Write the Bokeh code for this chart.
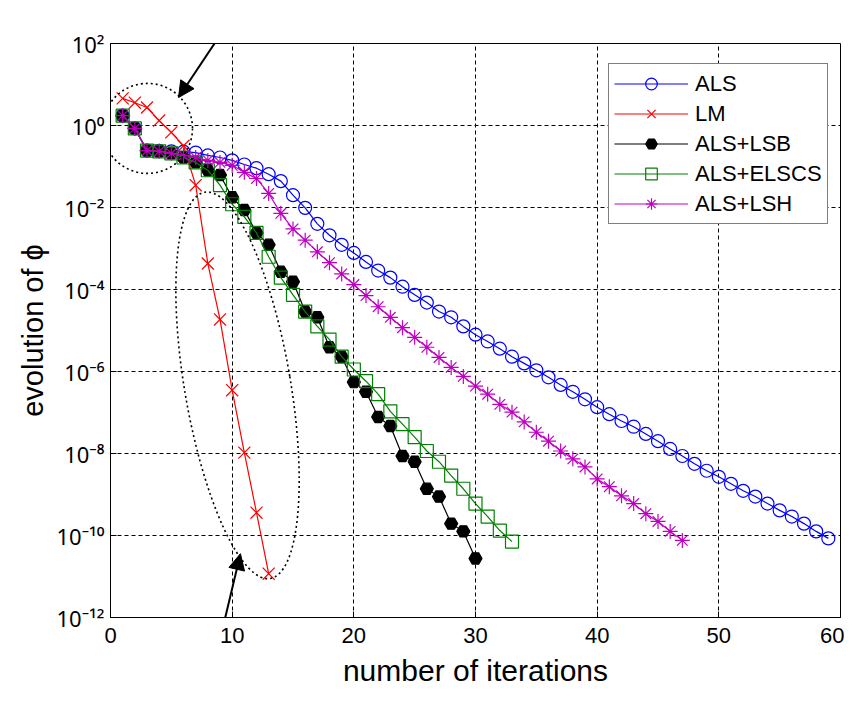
from bokeh.plotting import figure
from bokeh.models import (FixedTicker, CustomJSTickFormatter, Range1d, Arrow,
                          NormalHead, Legend, LegendItem)
from bokeh.embed import file_html
from bokeh.resources import INLINE

# ---- data (phi per iteration) ----
als = [1.74, 0.85, 0.245, 0.24, 0.235, 0.23, 0.219, 0.186, 0.166, 0.141,
       0.112, 9.1e-2, 6.5e-2, 4.4e-2, 2.0e-2, 9.8e-3, 4.0e-3, 2.1e-3, 1.23e-3, 7.8e-4,
       4.7e-4, 2.9e-4, 1.95e-4, 1.17e-4, 7.4e-5, 4.8e-5, 2.9e-5, 2.1e-5, 1.26e-5, 7.9e-6,
       5.4e-6, 3.6e-6, 2.3e-6, 1.58e-6, 1.07e-6, 7.2e-7, 4.7e-7, 3.2e-7, 2.1e-7, 1.35e-7,
       9.1e-8, 6.2e-8, 4.5e-8, 3.0e-8, 2.0e-8, 1.29e-8, 8.7e-9, 5.6e-9, 3.8e-9, 2.7e-9,
       1.82e-9, 1.23e-9, 8.9e-10, 6.0e-10, 4.1e-10, 2.9e-10, 1.95e-10, 1.26e-10, 8.5e-11]
lm = [4.6, 3.6, 2.75, 1.32, 0.68, 0.32, 3.5e-2, 4.3e-4, 1.86e-5, 3.5e-7,
      1.05e-8, 3.6e-10, 1.17e-11]
als_lsb = [1.74, 0.85, 0.245, 0.234, 0.209, 0.166, 0.126, 8.1e-2, 6.2e-2, 1.78e-2,
           8.7e-3, 2.4e-3, 1.23e-3, 2.7e-4, 1.55e-4, 2.9e-5, 2.1e-5, 3.9e-6, 2.3e-6, 5.5e-7,
           3.2e-7, 7.8e-8, 4.7e-8, 8.7e-9, 6.3e-9, 1.38e-9, 8.9e-10, 1.95e-10, 1.26e-10, 2.75e-11]
als_elscs = [1.74, 0.85, 0.245, 0.234, 0.209, 0.166, 0.126, 8.1e-2, 3.5e-2, 1.2e-2,
             5.9e-3, 2.4e-3, 6.3e-4, 1.95e-4, 7.4e-5, 2.9e-5, 1.26e-5, 6.0e-6, 2.3e-6, 1.12e-6,
             5.8e-7, 2.8e-7, 1.07e-7, 5.2e-8, 2.5e-8, 1.15e-8, 6.3e-9, 2.9e-9, 1.38e-9, 6.0e-10,
             2.9e-10, 1.32e-10, 7.1e-11]
als_lsh = [1.74, 0.85, 0.245, 0.234, 0.209, 0.186, 0.166, 0.141, 0.126, 0.107,
           7.2e-2, 5.1e-2, 2.2e-2, 7.2e-3, 3.0e-3, 1.6e-3, 8.3e-4, 4.5e-4, 2.4e-4, 1.32e-4,
           7.1e-5, 3.8e-5, 2.1e-5, 1.17e-5, 6.8e-6, 3.9e-6, 2.2e-6, 1.26e-6, 7.6e-7, 4.4e-7,
           2.8e-7, 1.58e-7, 1.02e-7, 5.9e-8, 3.3e-8, 2.0e-8, 1.15e-8, 7.4e-9, 4.7e-9, 2.4e-9,
           1.55e-9, 9.3e-10, 6.0e-10, 3.4e-10, 2.2e-10, 1.26e-10, 7.6e-11]

series_names = ["ALS", "LM", "ALS+LSB", "ALS+ELSCS", "ALS+LSH"]
series_values = [als, lm, als_lsb, als_elscs, als_lsh]
x_ticks = [0, 10, 20, 30, 40, 50, 60]
y_ticks = [1e-12, 1e-10, 1e-8, 1e-6, 1e-4, 1e-2, 1e0, 1e2]

# ---- styling ----
FONT = "Liberation Sans"
styles = [
    dict(color="#0000FF", marker="circle", size=13, fill=None),
    dict(color="#FF0000", marker="x", size=17, fill=None),
    dict(color="#000000", marker="hex", size=13, fill="#000000"),
    dict(color="#008000", marker="square", size=13, fill=None),
    dict(color="#C000C0", marker="asterisk", size=15, fill=None),
]

p = figure(frame_width=730, frame_height=574,
           x_range=Range1d(0, 60), y_range=Range1d(1e-12, 1e2),
           y_axis_type="log", output_backend="svg", toolbar_location=None,
           min_border_left=110, min_border_top=43, min_border_right=4,
           min_border_bottom=78)
p.background_fill_color = "white"
p.border_fill_color = "white"
p.outline_line_color = "black"
p.outline_line_width = 1
p.outline_line_alpha = 1

items = []
for name, vals, st in zip(series_names, series_values, styles):
    xs = list(range(1, len(vals) + 1))
    ln = p.line(xs, vals, line_color=st["color"], line_width=1.2)
    sc = p.scatter(xs, vals, marker=st["marker"], size=st["size"],
                   line_color=st["color"], line_width=1.2,
                   fill_color=st["fill"])
    items.append(LegendItem(label=name, renderers=[ln, sc]))

# axes
p.xaxis.ticker = FixedTicker(ticks=x_ticks)
p.yaxis.ticker = FixedTicker(ticks=y_ticks)
p.yaxis.formatter = CustomJSTickFormatter(code="""
const sup = {"-":"\u207b","0":"\u2070","1":"\u00b9","2":"\u00b2","3":"\u00b3",
             "4":"\u2074","5":"\u2075","6":"\u2076","7":"\u2077","8":"\u2078","9":"\u2079"};
const e = Math.round(Math.log10(tick)).toString();
return "10" + e.split("").map(c => sup[c]).join("");
""")
for ax in (p.xaxis[0], p.yaxis[0]):
    ax.axis_line_color = "black"
    ax.major_tick_line_color = "black"
    ax.major_tick_in = 6
    ax.major_tick_out = 0
    ax.minor_tick_line_color = None
    ax.major_label_text_font = FONT
    ax.major_label_text_color = "black"
    ax.axis_label_text_font = FONT
    ax.axis_label_text_font_style = "normal"
    ax.axis_label_text_color = "black"
p.yaxis.major_label_text_font = "Noto Sans"
p.xaxis.major_label_text_font_size = "22px"
p.yaxis.major_label_text_font_size = "22px"
p.xaxis.major_label_standoff = 10
p.yaxis.major_label_standoff = 6
p.xaxis.axis_label = "number of iterations"
p.yaxis.axis_label = "evolution of \u03d5"
p.xaxis.axis_label_text_font_size = "30px"
p.yaxis.axis_label_text_font_size = "29px"
p.xaxis.axis_label_standoff = 8
p.yaxis.axis_label_standoff = 4

for g in (p.xgrid[0], p.ygrid[0]):
    g.grid_line_color = "black"
    g.grid_line_dash = "4 3"
    g.grid_line_width = 1
p.ygrid.ticker = FixedTicker(ticks=y_ticks)

# annotations: dotted ellipses and arrows
p.ellipse(x=3.04, y=0.85, width=90, height=90, width_units="screen",
          height_units="screen", fill_color=None, line_color="black",
          line_dash="2 3", line_width=1.6)
p.ellipse(x=10.44, y=4.6e-7, width=106, height=392, angle=0.168,
          width_units="screen", height_units="screen", fill_color=None,
          line_color="black", line_dash="2 3", line_width=1.6)
p.add_layout(Arrow(end=NormalHead(size=16, fill_color="black", line_color="black"),
                   x_start=10.52, y_start=755, x_end=5.59, y_end=4.8,
                   line_color="black", line_width=2))
p.add_layout(Arrow(end=NormalHead(size=16, fill_color="black", line_color="black"),
                   x_start=7.81, y_start=9.5e-15, x_end=10.68, y_end=3.6e-11,
                   line_color="black", line_width=2))

legend = Legend(items=items, location=(498, 393))
legend.label_text_font = FONT
legend.label_text_font_size = "22px"
legend.label_text_color = "black"
legend.glyph_width = 74
legend.glyph_height = 29
legend.label_height = 29
legend.label_standoff = 7
legend.spacing = 1
legend.padding = 5
legend.margin = 0
legend.border_line_color = "black"
legend.border_line_width = 1
legend.background_fill_color = "white"
legend.background_fill_alpha = 1
p.add_layout(legend)

open("out.html", "w").write(file_html(p, INLINE))
